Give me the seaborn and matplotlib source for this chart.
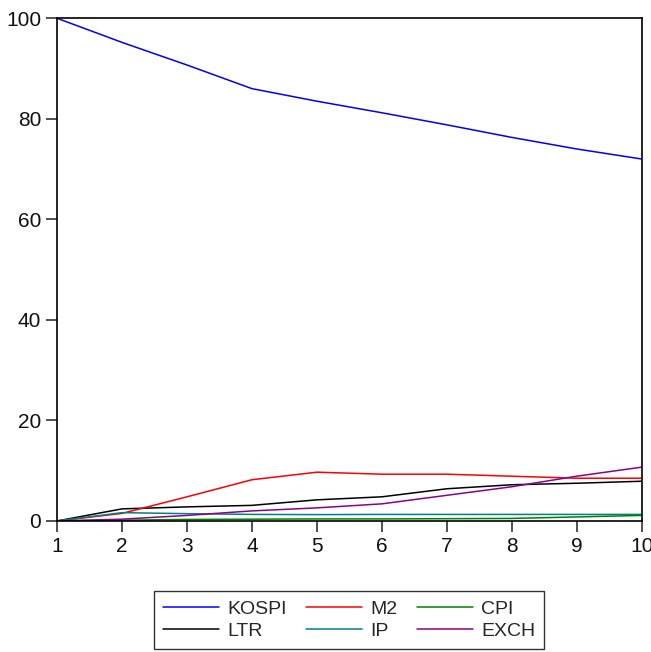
import numpy as np
import pandas as pd
import seaborn as sns
import matplotlib.pyplot as plt

periods = [1, 2, 3, 4, 5, 6, 7, 8, 9, 10]
kospi = [100.0, 95.2, 90.7, 86.0, 83.5, 81.2, 78.8, 76.3, 74.0, 72.0]
m2 = [0.0, 1.5, 4.8, 8.2, 9.7, 9.3, 9.3, 8.9, 8.5, 8.5]
cpi = [0.0, 0.15, 0.3, 0.35, 0.4, 0.4, 0.45, 0.5, 0.8, 1.1]
ltr = [0.0, 2.4, 2.8, 3.1, 4.2, 4.8, 6.4, 7.2, 7.5, 7.9]
ip = [0.0, 1.65, 1.45, 1.3, 1.26, 1.3, 1.3, 1.3, 1.3, 1.3]
exch = [0.0, 0.35, 1.1, 2.0, 2.6, 3.4, 5.1, 6.8, 8.9, 10.7]

# legend reads row-wise: KOSPI M2 CPI / LTR IP EXCH (matplotlib fills columns)
order = ['KOSPI', 'LTR', 'M2', 'IP', 'CPI', 'EXCH']
palette = {'KOSPI': '#0000ff', 'M2': '#ff0000', 'CPI': '#008000',
           'LTR': '#000000', 'IP': '#008080', 'EXCH': '#8b008b'}

df = pd.DataFrame({'period': periods, 'KOSPI': kospi, 'M2': m2, 'CPI': cpi,
                   'LTR': ltr, 'IP': ip, 'EXCH': exch})
long = df.melt(id_vars='period', var_name='series', value_name='value')

sns.set_style('white')
plt.rcParams['font.family'] = ['Liberation Sans', 'DejaVu Sans']

fig = plt.figure(figsize=(6.51, 6.52), dpi=100)
ax = fig.add_axes([0.0876, 0.201, 0.898, 0.771])
sns.lineplot(data=long, x='period', y='value', hue='series', hue_order=order,
             palette=palette, linewidth=1.1, ax=ax, legend=True)

ax.set_xlim(1, 10)
ax.set_ylim(0, 100)
ax.set_xticks(periods)
ax.set_yticks([0, 20, 40, 60, 80, 100])
ax.set_xlabel('')
ax.set_ylabel('')
for s in ax.spines.values():
    s.set_color('black')
    s.set_linewidth(1.2)
ax.tick_params(direction='out', length=8, width=1.2, color='#333333',
               labelsize=15, labelcolor='#111111', bottom=True, left=True)

ax.get_legend().remove()
handles, labels = ax.get_legend_handles_labels()
leg = fig.legend(handles, labels, ncol=3, loc='center',
                 bbox_to_anchor=(0.536, 0.049), fontsize=14, frameon=True,
                 fancybox=False, edgecolor='black', handlelength=2.9,
                 handletextpad=0.4, columnspacing=1.0, labelspacing=0.25,
                 borderpad=0.45, borderaxespad=0)
leg.get_frame().set_linewidth(1.0)

fig.savefig('out.png', dpi=100)
